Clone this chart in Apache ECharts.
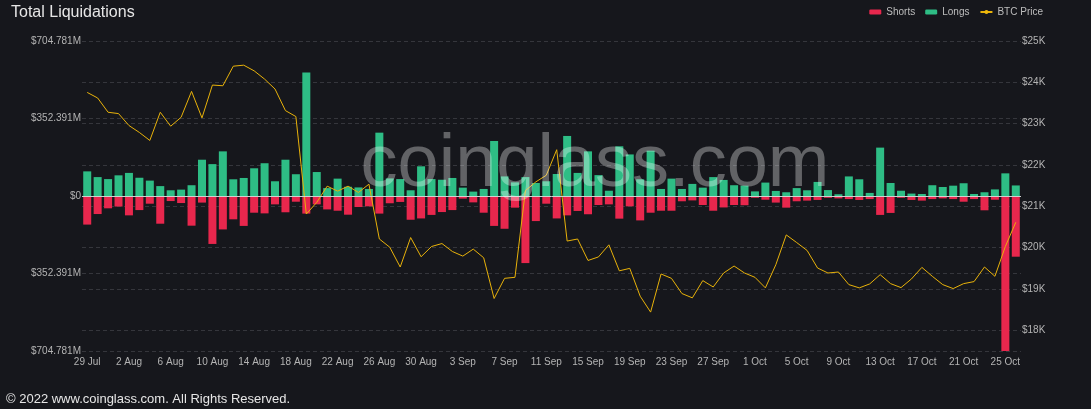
<!DOCTYPE html>
<html>
<head>
<meta charset="utf-8">
<script src="https://cdn.jsdelivr.net/npm/echarts@6/dist/echarts.min.js"></script>
<style>
html,body{margin:0;padding:0;background:#16171c;}
#chart{width:1091px;height:409px;}
</style>
</head>
<body>
<div id="chart"></div>
<script>
const categories = [
'29 Jul','30 Jul','31 Jul',
'1 Aug','2 Aug','3 Aug','4 Aug','5 Aug','6 Aug','7 Aug','8 Aug','9 Aug','10 Aug',
'11 Aug','12 Aug','13 Aug','14 Aug','15 Aug','16 Aug','17 Aug','18 Aug','19 Aug','20 Aug',
'21 Aug','22 Aug','23 Aug','24 Aug','25 Aug','26 Aug','27 Aug','28 Aug','29 Aug','30 Aug','31 Aug',
'1 Sep','2 Sep','3 Sep','4 Sep','5 Sep','6 Sep','7 Sep','8 Sep','9 Sep','10 Sep',
'11 Sep','12 Sep','13 Sep','14 Sep','15 Sep','16 Sep','17 Sep','18 Sep','19 Sep','20 Sep',
'21 Sep','22 Sep','23 Sep','24 Sep','25 Sep','26 Sep','27 Sep','28 Sep','29 Sep','30 Sep',
'1 Oct','2 Oct','3 Oct','4 Oct','5 Oct','6 Oct','7 Oct','8 Oct','9 Oct','10 Oct',
'11 Oct','12 Oct','13 Oct','14 Oct','15 Oct','16 Oct','17 Oct','18 Oct','19 Oct','20 Oct',
'21 Oct','22 Oct','23 Oct','24 Oct','25 Oct','26 Oct'
];

// Long liquidations (million USD)
const longs = [
112, 86, 77, 94, 105, 83, 70, 45, 26, 29,
49, 165, 145, 203, 76, 82, 126, 149, 67, 165,
99, 562, 109, 36, 79, 42, 39, 32, 288, 80,
77, 26, 135, 77, 74, 82, 38, 20, 32, 250,
89, 62, 86, 59, 67, 100, 273, 105, 203, 95,
24, 226, 189, 76, 206, 32, 79, 32, 55, 38,
86, 73, 49, 47, 21, 61, 23, 17, 36, 26,
64, 27, 8, 89, 76, 14, 220, 59, 24, 11,
9, 49, 41, 47, 58, 9, 17, 30, 103, 48
];

// Short liquidations (million USD, drawn downward)
const shorts = [
130, 82, 56, 48, 88, 64, 35, 126, 23, 32,
135, 30, 218, 152, 106, 136, 76, 79, 38, 74,
26, 80, 38, 61, 67, 85, 50, 47, 80, 33,
27, 108, 102, 86, 73, 64, 12, 29, 76, 136,
149, 53, 305, 114, 35, 102, 88, 68, 83, 41,
38, 103, 47, 111, 76, 67, 67, 24, 20, 41,
67, 52, 41, 42, 8, 17, 30, 53, 24, 21,
18, 8, 11, 14, 18, 14, 86, 77, 8, 18,
21, 14, 11, 14, 26, 14, 65, 17, 704.781, 276
];

// BTC price (USD)
const btcPrice = [
23756, 23621, 23276, 23244, 22955, 22787, 22594, 23276, 22939, 23155,
23781, 23140, 23934, 23917, 24391, 24415, 24278, 24078, 23838, 23316,
23172, 20814, 21096, 21488, 21368, 21488, 21336, 21536, 20210, 20010,
19532, 20245, 19780, 20028, 20100, 19907, 19796, 19965, 19756, 18770,
19258, 19283, 21380, 21592, 21752, 22370, 20160, 20210, 19690, 19776,
20069, 19440, 19499, 18826, 18441, 19363, 19258, 18890, 18786, 19203,
19049, 19387, 19556, 19387, 19283, 19027, 19587, 20309, 20124, 19932,
19508, 19387, 19411, 19106, 19027, 19123, 19347, 19130, 19034, 19243,
19523, 19307, 19106, 19010, 19130, 19179, 19532, 19307, 20028, 20614
];

const leftTickLabels = ['$704.781M', '$352.391M', '$0', '$352.391M', '$704.781M'];
const rightTickValues = [18000, 19000, 20000, 21000, 22000, 23000, 24000, 25000];

const chart = echarts.init(document.getElementById('chart'), null, {renderer: 'canvas'});
const font = 'Liberation Sans, Arial, Helvetica, sans-serif';
const gridLine = {show: true, lineStyle: {color: '#35363c', type: [4, 3], width: 1}};

chart.setOption({
  backgroundColor: '#16171c',
  animation: false,
  textStyle: {fontFamily: font},
  title: {
    text: 'Total Liquidations',
    left: 6, top: 0,
    textStyle: {color: '#e6e6e6', fontSize: 16, fontWeight: 'normal', fontFamily: font}
  },
  legend: {
    right: 43, top: 2,
    itemWidth: 12, itemHeight: 5, itemGap: 10,
    textStyle: {color: '#bdbdbd', fontSize: 10, fontFamily: font},
    data: [
      {name: 'Shorts', icon: 'roundRect'},
      {name: 'Longs', icon: 'roundRect'},
      {name: 'BTC Price'}
    ]
  },
  grid: {left: 82, right: 70, top: 41, bottom: 58, containLabel: false},
  xAxis: {
    type: 'category',
    data: categories,
    boundaryGap: true,
    axisLine: {show: false, onZero: false},
    axisTick: {show: false},
    axisLabel: {color: '#b4b4b4', fontSize: 10, margin: 6, interval: 3, fontFamily: font},
    splitLine: {show: false}
  },
  yAxis: [
    {
      type: 'value',
      min: -704.781, max: 704.781, interval: 352.3905,
      axisLine: {show: false}, axisTick: {show: false},
      axisLabel: {
        color: '#b4b4b4', fontSize: 10, margin: 1, fontFamily: font,
        formatter: (v, i) => leftTickLabels[i] !== undefined ? leftTickLabels[i] : ''
      },
      splitLine: gridLine
    },
    {
      type: 'value',
      min: 17500, max: 25000,
      position: 'right',
      axisLine: {show: false},
      axisTick: {show: false, customValues: rightTickValues},
      axisLabel: {
        color: '#b4b4b4', fontSize: 10, margin: 1, fontFamily: font,
        customValues: rightTickValues,
        formatter: v => '$' + (v / 1000) + 'K'
      },
      splitLine: gridLine
    }
  ],
  series: [
    {
      name: 'Shorts', type: 'bar', stack: 'liq', barWidth: 8,
      itemStyle: {color: '#e8274d'},
      data: shorts.map(v => -v)
    },
    {
      name: 'Longs', type: 'bar', stack: 'liq', barWidth: 8,
      itemStyle: {color: '#2ebd85'},
      data: longs,
      markLine: {
        silent: true, symbol: 'none',
        label: {show: false},
        lineStyle: {color: '#d0d0d0', width: 1, type: 'solid'},
        data: [{yAxis: 0}]
      }
    },
    {
      name: 'BTC Price', type: 'line', yAxisIndex: 1,
      showSymbol: false, symbol: 'circle', symbolSize: 4,
      itemStyle: {color: '#f0b90b'},
      lineStyle: {color: '#e8b20a', width: 1},
      data: btcPrice
    }
  ],
  graphic: [
    {
      type: 'text', z: 100, silent: true,
      style: {
        text: 'coinglass.com', x: 595, y: 166,
        textAlign: 'center', textVerticalAlign: 'middle',
        font: '74px ' + font,
        fill: 'rgba(255,255,255,0.33)'
      }
    },
    {
      type: 'text', silent: true,
      style: {
        text: '\u00a9 2022 www.coinglass.com. All Rights Reserved.',
        x: 6, y: 399, textVerticalAlign: 'middle',
        font: '13px ' + font,
        fill: '#e6e6e6'
      }
    }
  ]
});
</script>
</body>
</html>
